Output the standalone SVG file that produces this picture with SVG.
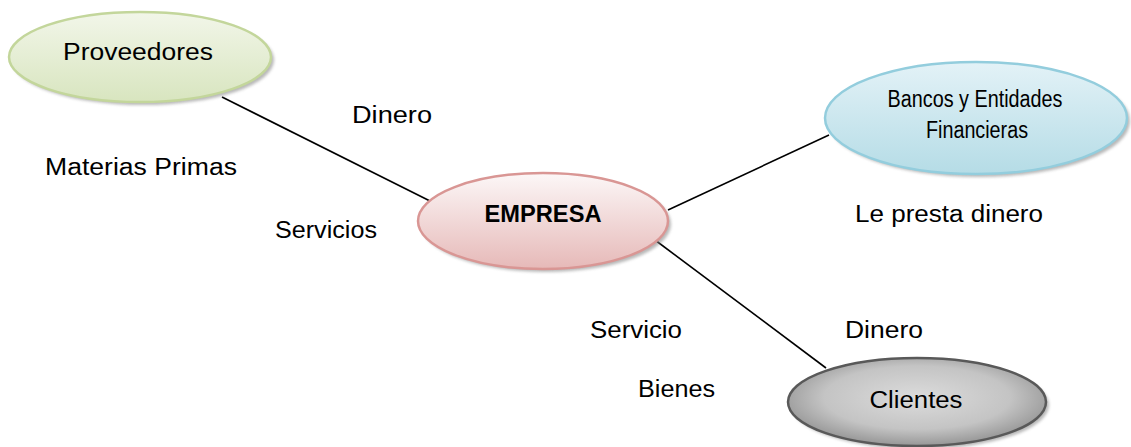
<svg xmlns="http://www.w3.org/2000/svg" width="1131" height="447" viewBox="0 0 1131 447">
<defs>
<linearGradient id="gGreen" x1="0" y1="0" x2="0" y2="1"><stop offset="0" stop-color="#f2f6e9"/><stop offset="1" stop-color="#d8e5bf"/></linearGradient>
<linearGradient id="gPink" x1="0" y1="0" x2="0" y2="1"><stop offset="0" stop-color="#fcf7f7"/><stop offset="1" stop-color="#e6b9b8"/></linearGradient>
<linearGradient id="gBlue" x1="0" y1="0" x2="0" y2="1"><stop offset="0" stop-color="#e3f2f7"/><stop offset="1" stop-color="#b5dce6"/></linearGradient>
<radialGradient id="gGrey" cx="0.5" cy="0.45" r="0.6"><stop offset="0" stop-color="#dcdcdc"/><stop offset="0.6" stop-color="#c4c4c4"/><stop offset="1" stop-color="#8a8a8a"/></radialGradient>
<filter id="sh" x="-10%" y="-10%" width="130%" height="140%"><feGaussianBlur stdDeviation="1.5"/></filter>
</defs>
<style>
.t{font-family:"Liberation Sans",Arial,sans-serif;font-size:23px;fill:#000}
.shadow{fill:#7f7f7f;opacity:0.55;filter:url(#sh)}
.edge{stroke:#000;stroke-width:1.6;fill:none}
</style>
<rect width="1131" height="447" fill="#fff"/>
<g id="connectors">
<line class="edge" x1="222" y1="97" x2="430" y2="201"/>
<line class="edge" x1="668" y1="210" x2="829" y2="135"/>
<line class="edge" x1="655" y1="240" x2="826" y2="368"/>
</g>
<g id="proveedores">
<ellipse class="shadow" cx="143" cy="60" rx="131" ry="45"/>
<ellipse cx="140" cy="57" rx="131" ry="45" fill="url(#gGreen)" stroke="#c3d69b" stroke-width="2.5"/>
<text class="t" x="138" y="60" text-anchor="middle" font-size="24" textLength="150" lengthAdjust="spacingAndGlyphs">Proveedores</text>
</g>
<g id="empresa">
<ellipse class="shadow" cx="546" cy="224" rx="125" ry="48"/>
<ellipse cx="543" cy="221" rx="125" ry="48" fill="url(#gPink)" stroke="#d99694" stroke-width="2.5"/>
<text class="t" x="543" y="222" text-anchor="middle" font-size="24" font-weight="bold" textLength="117" lengthAdjust="spacingAndGlyphs">EMPRESA</text>
</g>
<g id="bancos">
<ellipse class="shadow" cx="979" cy="121" rx="151" ry="56"/>
<ellipse cx="976" cy="118" rx="151" ry="56" fill="url(#gBlue)" stroke="#93cddd" stroke-width="2.5"/>
<text class="t" x="975" y="107" text-anchor="middle" font-size="18" textLength="175" lengthAdjust="spacingAndGlyphs">Bancos y Entidades</text>
<text class="t" x="977" y="138" text-anchor="middle" font-size="18" textLength="102" lengthAdjust="spacingAndGlyphs">Financieras</text>
</g>
<g id="clientes">
<ellipse class="shadow" cx="920" cy="405" rx="129" ry="44"/>
<ellipse cx="917" cy="402" rx="129" ry="44" fill="url(#gGrey)" stroke="#595959" stroke-width="2.5"/>
<text class="t" x="916" y="408" text-anchor="middle" font-size="23" textLength="93" lengthAdjust="spacingAndGlyphs">Clientes</text>
</g>
<g id="labels">
<text class="t" x="352" y="123" textLength="80" lengthAdjust="spacingAndGlyphs">Dinero</text>
<text class="t" x="45" y="175" textLength="192" lengthAdjust="spacingAndGlyphs">Materias Primas</text>
<text class="t" x="275" y="238" textLength="102" lengthAdjust="spacingAndGlyphs">Servicios</text>
<text class="t" x="855" y="222" textLength="188" lengthAdjust="spacingAndGlyphs">Le presta dinero</text>
<text class="t" x="590" y="338" textLength="92" lengthAdjust="spacingAndGlyphs">Servicio</text>
<text class="t" x="845" y="338" textLength="78" lengthAdjust="spacingAndGlyphs">Dinero</text>
<text class="t" x="638" y="397" textLength="77" lengthAdjust="spacingAndGlyphs">Bienes</text>
</g>
</svg>
